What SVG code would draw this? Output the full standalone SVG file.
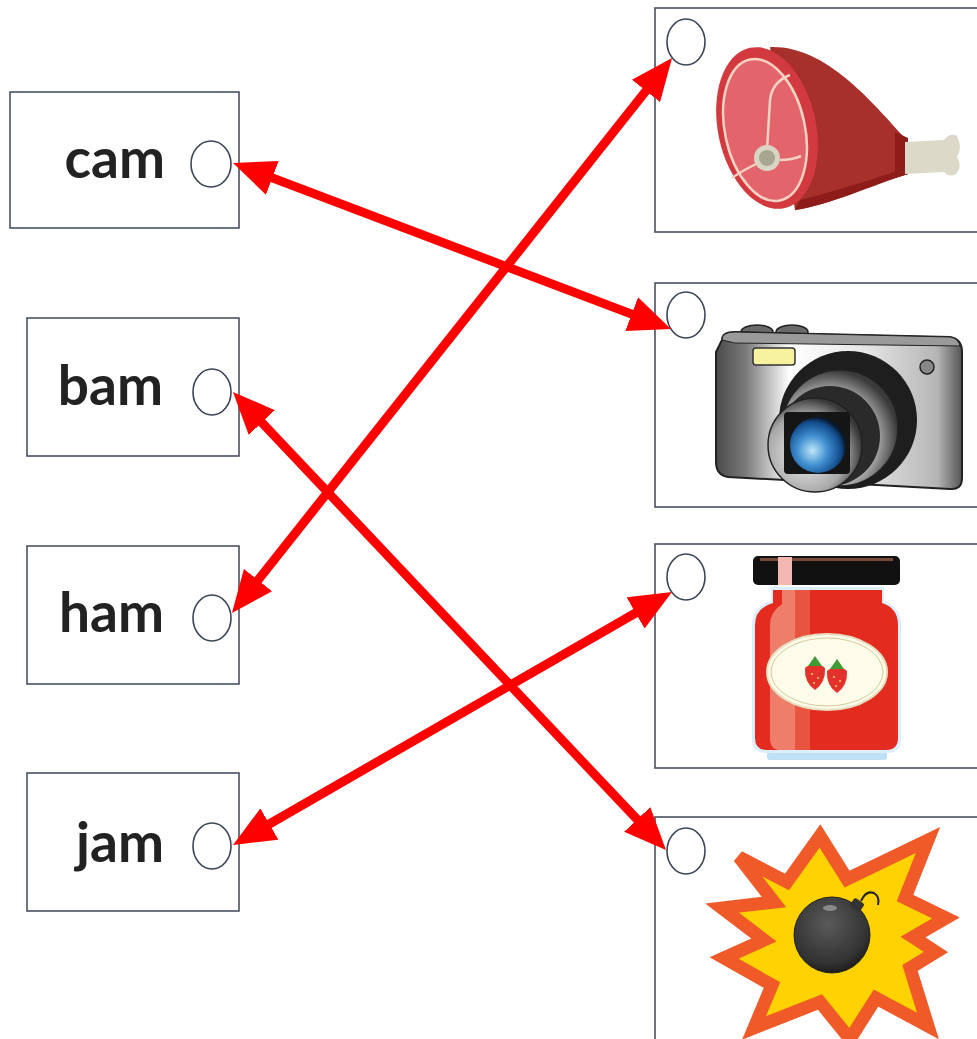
<svg xmlns="http://www.w3.org/2000/svg" width="977" height="1039" viewBox="0 0 977 1039">
<style>
.box{fill:#fff;stroke:#4a5162;stroke-width:1.6}
.dot{fill:#fff;stroke:#3c4556;stroke-width:1.6}
.word{font-family:"Comic Sans MS","Lato","Open Sans",sans-serif;font-weight:700;font-size:55px;fill:#222;text-anchor:end}
.link{stroke:#ff0000;stroke-width:9;fill:none;marker-start:url(#head);marker-end:url(#head)}
</style>
<defs>
<marker id="head" markerUnits="userSpaceOnUse" viewBox="0 0 42 36" markerWidth="42" markerHeight="36" refX="12" refY="18" orient="auto-start-reverse">
<path d="M0,0 L42,18 L0,36 Z" fill="#ff0000"/>
</marker>
<linearGradient id="silver" x1="0" y1="0" x2="1" y2="0">
<stop offset="0" stop-color="#4a4a4a"/>
<stop offset="0.12" stop-color="#7a7a7a"/>
<stop offset="0.3" stop-color="#ffffff"/>
<stop offset="0.6" stop-color="#e6e6e6"/>
<stop offset="0.9" stop-color="#b5b5b5"/>
<stop offset="1" stop-color="#555"/>
</linearGradient>
<radialGradient id="ring" cx="0.4" cy="0.6" r="0.6">
<stop offset="0" stop-color="#f2f2f2"/>
<stop offset="0.7" stop-color="#a8a8a8"/>
<stop offset="1" stop-color="#3a3a3a"/>
</radialGradient>
<radialGradient id="glass" cx="0.4" cy="0.6" r="0.6">
<stop offset="0" stop-color="#bfe6fa"/>
<stop offset="0.45" stop-color="#3f8fd0"/>
<stop offset="0.85" stop-color="#114a8a"/>
<stop offset="1" stop-color="#08182e"/>
</radialGradient>
<radialGradient id="bombg" cx="0.45" cy="0.35" r="0.65">
<stop offset="0" stop-color="#5a5a5a"/>
<stop offset="0.8" stop-color="#333"/>
<stop offset="1" stop-color="#1e1e1e"/>
</radialGradient>
</defs>

<g id="node-cam">
<rect class="box" x="10" y="92" width="229" height="136"/>
<text class="word" x="165" y="178">cam</text>
<ellipse class="dot" cx="211" cy="164" rx="20" ry="23"/>
</g>
<g id="node-bam">
<rect class="box" x="27" y="318" width="212" height="138"/>
<text class="word" x="163" y="405">bam</text>
<ellipse class="dot" cx="212" cy="392" rx="19" ry="23"/>
</g>
<g id="node-ham">
<rect class="box" x="27" y="546" width="212" height="138"/>
<text class="word" x="164" y="632">ham</text>
<ellipse class="dot" cx="212" cy="618" rx="19" ry="23"/>
</g>
<g id="node-jam">
<rect class="box" x="27" y="773" width="212" height="138"/>
<text class="word" x="164" y="862">jam</text>
<ellipse class="dot" cx="212" cy="846" rx="19" ry="23"/>
</g>

<g id="node-ham-picture">
<rect class="box" x="655" y="8" width="340" height="224"/>
<path d="M770,47 C825,45 870,100 905,138 L908,174 C870,185 830,205 795,210 Z" fill="#a8302a"/>
<path d="M800,200 C840,190 875,178 908,168 L908,174 C870,186 830,205 795,210 Z" fill="#8e1c18"/>
<path d="M895,132 L908,138 L908,174 L895,178 Z" fill="#8e1c18"/>
<path d="M905,142 L944,140 Q950,132 957,136 Q963,148 957,157 Q963,167 956,174 Q949,178 944,172 L905,174 Z" fill="#dcd9c8"/>
<ellipse cx="767" cy="128" rx="49" ry="82" transform="rotate(-12 767 128)" fill="#d23a3f"/>
<ellipse cx="765" cy="130" rx="40" ry="72" transform="rotate(-12 765 130)" fill="#e4646b" stroke="#f4d3c4" stroke-width="2.5"/>
<path d="M767,150 L770,100 Q772,82 790,75 M756,164 Q740,172 732,178 M780,160 Q792,160 801,156" stroke="#f4d3c4" stroke-width="2.5" fill="none"/>
<circle cx="767" cy="158" r="13" fill="#d8d5c3"/>
<circle cx="767" cy="158" r="8" fill="#a9a792"/>
<ellipse class="dot" cx="686" cy="42" rx="19" ry="23"/>
</g>

<g id="node-camera-picture">
<rect class="box" x="655" y="283" width="340" height="224"/>
<ellipse cx="757" cy="332" rx="16" ry="7" fill="#6a6a6a" stroke="#222" stroke-width="1.5"/>
<ellipse cx="792" cy="332" rx="16" ry="7" fill="#6a6a6a" stroke="#222" stroke-width="1.5"/>
<path d="M722,340 Q722,332 735,332 L950,337 Q962,339 962,352 L962,478 Q962,490 950,489 L728,477 Q716,475 716,462 L716,352 Z" fill="url(#silver)" stroke="#222" stroke-width="2"/>
<path d="M722,340 Q722,332 735,332 L950,337 Q958,338 960,346 L735,343 Z" fill="#9a9a9a" stroke="#222" stroke-width="1"/>
<rect x="753" y="348" width="42" height="17" rx="3" fill="#f7f2a0" stroke="#333" stroke-width="1.5"/>
<circle cx="927" cy="367" r="7" fill="#888" stroke="#222" stroke-width="1.5"/>
<circle cx="848" cy="420" r="69" fill="#1e1e1e"/>
<circle cx="840" cy="428" r="58" fill="url(#ring)" stroke="#222" stroke-width="1.5"/>
<circle cx="830" cy="436" r="50" fill="#2a2a2a"/>
<circle cx="815" cy="445" r="47" fill="url(#ring)" stroke="#222" stroke-width="1.5"/>
<rect x="784" y="412" width="66" height="62" rx="4" fill="#151515"/>
<circle cx="818" cy="445" r="28" fill="url(#glass)"/>
<ellipse class="dot" cx="686" cy="315" rx="19" ry="23"/>
</g>

<g id="node-jam-picture">
<rect class="box" x="655" y="544" width="340" height="224"/>
<rect x="767" y="751" width="120" height="9" rx="3" fill="#bfe0f5"/>
<path d="M771,587 L884,587 L884,601 Q901,607 901,625 L901,739 Q901,753 887,753 L767,753 Q752,753 752,739 L752,625 Q752,607 771,601 Z" fill="#dbeefb"/>
<path d="M773,590 L882,590 L882,603 Q898,608 898,625 L898,738 Q898,750 886,750 L767,750 Q755,750 755,738 L755,625 Q755,608 773,603 Z" fill="#e32b20"/>
<path d="M782,590 L810,590 L810,750 L780,750 Q770,750 770,738 L770,625 Q770,612 782,604 Z" fill="#ee7d6a"/>
<path d="M795,590 L810,590 L810,750 L795,750 Z" fill="#e8543f"/>
<ellipse cx="827" cy="672" rx="60" ry="38" fill="#fdfbea" stroke="#e8dfc0" stroke-width="2"/>
<ellipse cx="827" cy="672" rx="56" ry="34" fill="none" stroke="#d5cb9c" stroke-width="1"/>
<path d="M805,668 Q815,660 825,668 Q826,682 815,690 Q804,682 805,668 Z" fill="#e3322b"/>
<path d="M827,671 Q837,663 847,671 Q848,685 837,693 Q826,685 827,671 Z" fill="#e3322b"/>
<path d="M808,666 L815,656 L822,666 Z M830,669 L837,659 L844,669 Z" fill="#3f9b33"/>
<g fill="#f7d46a"><circle cx="812" cy="674" r="1"/><circle cx="818" cy="678" r="1"/><circle cx="814" cy="683" r="1"/><circle cx="834" cy="677" r="1"/><circle cx="840" cy="681" r="1"/><circle cx="836" cy="686" r="1"/></g>
<rect x="753" y="556" width="147" height="29" rx="5" fill="#111"/>
<rect x="760" y="558" width="133" height="3" fill="#7a4a3a"/>
<rect x="778" y="557" width="14" height="28" fill="#f3b6b0"/>
<ellipse class="dot" cx="686" cy="577" rx="19" ry="23"/>
</g>

<g id="node-bomb-picture">
<rect class="box" x="655" y="817" width="340" height="240"/>
<polygon points="739,857 787,882 820,836 847,879 928,840 905,898 946,918 913,937 936,952 910,968 928,1026 876,998 850,1039 820,1002 754,1028 772,985 724,958 764,940 722,908 774,902" fill="#ffd200" stroke="#f05a28" stroke-width="13" stroke-linejoin="miter"/>
<circle cx="832" cy="935" r="38" fill="url(#bombg)" stroke="#222" stroke-width="1"/>
<ellipse cx="830" cy="908" rx="7" ry="3" fill="#8a8a8a"/>
<rect x="851" y="900" width="12" height="10" rx="2" transform="rotate(35 857 905)" fill="#333"/>
<path d="M861,901 Q866,890 874,893 Q880,897 878,905" stroke="#222" stroke-width="2" fill="none"/>
<ellipse class="dot" cx="686" cy="851" rx="19" ry="23"/>
</g>

<g id="connectors">
<line class="link" x1="261.1" y1="173.6" x2="642.9" y2="318.4"/>
<line class="link" x1="250.6" y1="589.5" x2="653.4" y2="81.5"/>
<line class="link" x1="253.6" y1="413.8" x2="645.4" y2="828.2"/>
<line class="link" x1="259.0" y1="830.0" x2="646.0" y2="607.0"/>
</g>
</svg>
